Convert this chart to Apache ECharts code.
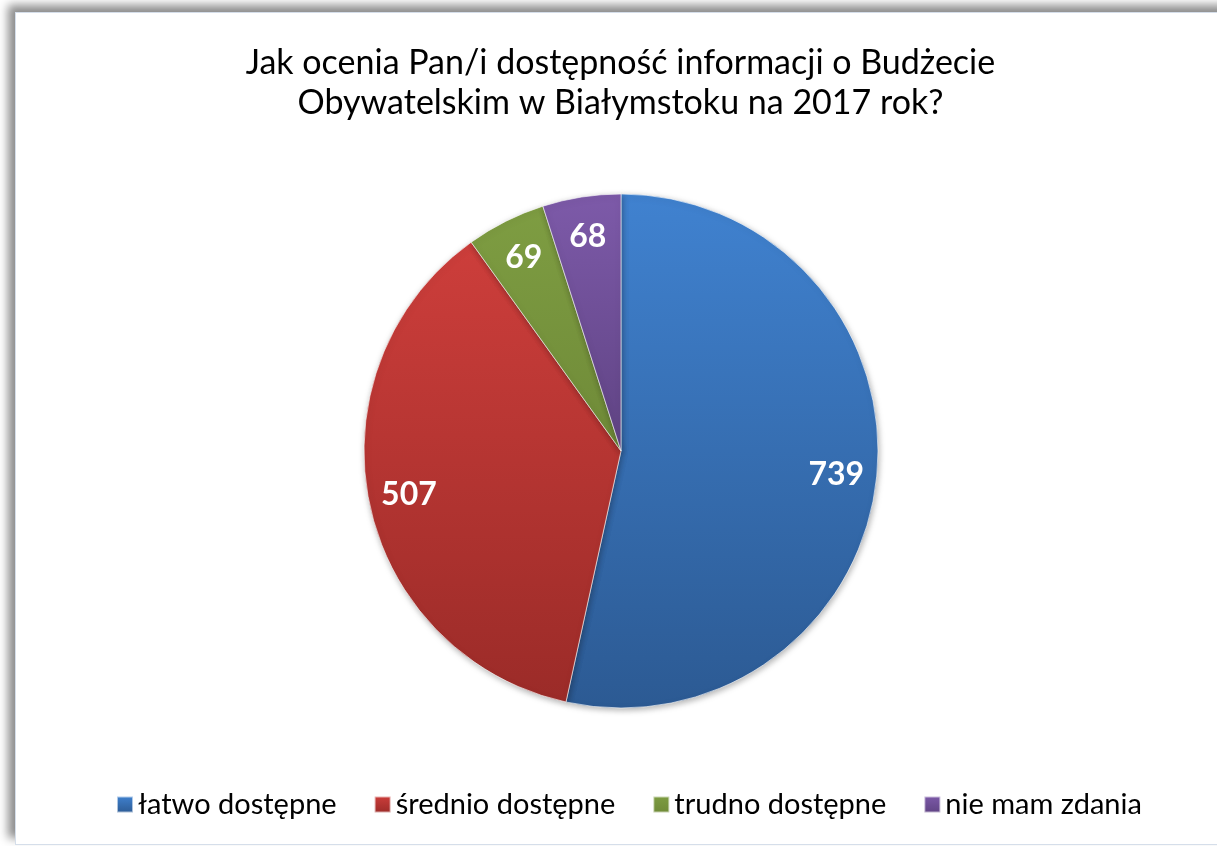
<!DOCTYPE html>
<html>
<head>
<meta charset="utf-8">
<script src="https://cdn.jsdelivr.net/npm/echarts@6/dist/echarts.min.js"></script>
<style>
  html, body { margin: 0; padding: 0; background: #fff; overflow: hidden; }
  #frame {
    position: absolute; left: 15px; top: 12px; width: 1230px; height: 831px;
    border: 1px solid #d5deea; background: #fff;
    box-shadow: -7px -7px 9px rgba(0, 0, 0, 0.45);
  }
  #main { position: absolute; left: 12px; top: 0; width: 1217px; height: 846px; }
</style>
</head>
<body>
<div id="frame"></div>
<div id="main"></div>
<script>
// dane z wykresu
var titleLines = ['Jak ocenia Pan/i dostępność informacji o Budżecie', 'Obywatelskim w Białymstoku na 2017 rok?'];
var categories = ['łatwo dostępne', 'średnio dostępne', 'trudno dostępne', 'nie mam zdania'];
var values = [739, 507, 69, 68];
// kolory: góra / dół gradientu
var colorTop = ['#4082d0', '#cd3e3b', '#7e9d42', '#7d5aa9'];
var colorBottom = ['#2c5a93', '#9b2b28', '#6f8a38', '#5f4383'];

var font = 'Lato, "Open Sans", sans-serif';

function grad(i) {
  return new echarts.graphic.LinearGradient(0, 0, 0, 1, [
    { offset: 0, color: colorTop[i] },
    { offset: 1, color: colorBottom[i] }
  ]);
}

var pieData = categories.map(function (name, i) {
  return { name: name, value: values[i], itemStyle: { color: grad(i) } };
});
var labelData = categories.map(function (name, i) {
  return { name: name, value: values[i] };
});

// div przesunięty o 12px w prawo
var pieCenter = [609, 451];

var chart = echarts.init(document.getElementById('main'));
chart.setOption({
  backgroundColor: 'transparent',
  animation: false,
  title: {
    text: titleLines.join('\n'),
    left: 'center',
    top: 38,
    textStyle: { fontFamily: font, fontSize: 34, fontWeight: 'normal', color: '#000', lineHeight: 40 }
  },
  legend: {
    bottom: 27,
    left: 104,
    padding: 0,
    itemWidth: 16,
    itemHeight: 16,
    itemGap: 37,
    icon: 'rect',
    data: categories,
    textStyle: { fontFamily: font, fontSize: 29, color: '#000' }
  },
  series: [
    {
      type: 'pie',
      center: pieCenter,
      radius: [0, 257],
      startAngle: 90,
      clockwise: true,
      data: pieData,
      label: { show: false },
      labelLine: { show: false },
      itemStyle: {
        borderColor: 'rgba(255,255,255,0.6)',
        borderWidth: 1,
        shadowBlur: 6,
        shadowOffsetX: 1,
        shadowOffsetY: 2,
        shadowColor: 'rgba(0,0,0,0.3)'
      }
    },
    {
      // niewidoczny pierścień tylko dla etykiet
      type: 'pie',
      center: pieCenter,
      radius: [170, 257],
      startAngle: 90,
      clockwise: true,
      silent: true,
      legendHoverLink: false,
      data: labelData,
      itemStyle: { color: 'rgba(0,0,0,0)' },
      label: {
        show: true,
        position: 'inside',
        formatter: '{c}',
        fontFamily: font,
        fontSize: 32,
        fontWeight: 'bold',
        color: '#fff'
      },
      labelLine: { show: false }
    }
  ]
});
</script>
</body>
</html>
